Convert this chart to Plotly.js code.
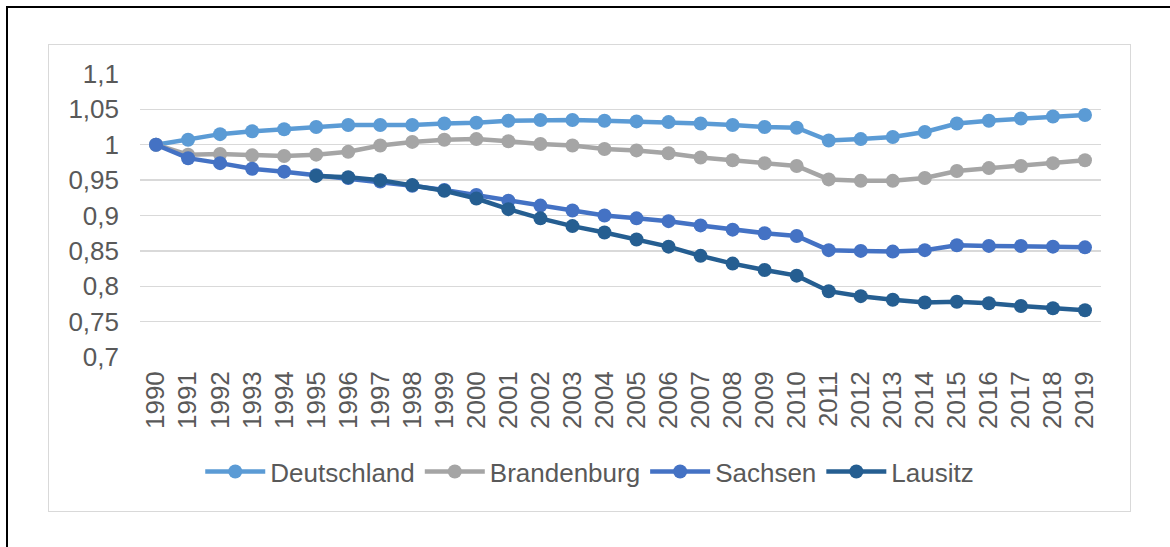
<!DOCTYPE html>
<html>
<head>
<meta charset="utf-8">
<script src="https://cdn.plot.ly/plotly-3.0.1.min.js"></script>
<style>
  html, body { margin: 0; padding: 0; background: #ffffff; }
  #wrap { position: relative; width: 1170px; height: 547px; overflow: hidden; }
  #chart { position: absolute; left: 0; top: 0; width: 1170px; height: 547px; }
  #outer { position: absolute; left: 6px; top: 6px; width: 1200px; height: 600px;
           border-left: 2px solid #000; border-top: 2px solid #000; pointer-events: none; }
  #inner { position: absolute; left: 48px; top: 44px; width: 1081px; height: 466px;
           border: 1.5px solid #d9d9d9; pointer-events: none; }
</style>
</head>
<body>
<div id="wrap">
  <div id="chart"></div>
  <div id="outer"></div>
  <div id="inner"></div>
</div>
<script>
const years = ['1990','1991','1992','1993','1994','1995','1996','1997','1998','1999',
               '2000','2001','2002','2003','2004','2005','2006','2007','2008','2009',
               '2010','2011','2012','2013','2014','2015','2016','2017','2018','2019'];

const deutschland = [1.000,1.007,1.015,1.019,1.022,1.025,1.028,1.028,1.028,1.030,
                     1.031,1.034,1.035,1.035,1.034,1.033,1.032,1.030,1.028,1.025,
                     1.024,1.006,1.008,1.011,1.018,1.030,1.034,1.037,1.040,1.042];

const brandenburg = [1.000,0.986,0.987,0.985,0.984,0.986,0.990,0.999,1.004,1.007,
                     1.008,1.005,1.001,0.999,0.994,0.992,0.988,0.982,0.978,0.974,
                     0.970,0.951,0.949,0.949,0.953,0.963,0.967,0.970,0.974,0.978];

const sachsen = [1.000,0.981,0.974,0.966,0.962,0.957,0.953,0.948,0.942,0.936,
                 0.929,0.921,0.914,0.907,0.900,0.896,0.892,0.886,0.880,0.875,
                 0.871,0.851,0.850,0.849,0.851,0.858,0.857,0.857,0.856,0.855];

const lausitz = [null,null,null,null,null,0.956,0.954,0.950,0.943,0.935,
                 0.924,0.909,0.896,0.885,0.876,0.866,0.856,0.843,0.832,0.823,
                 0.815,0.793,0.786,0.781,0.777,0.778,0.776,0.772,0.769,0.766];

const yTickVals = [0.7,0.75,0.8,0.85,0.9,0.95,1,1.05,1.1];
const yTickText = ['0,7','0,75','0,8','0,85','0,9','0,95','1','1,05','1,1'];

const seriesNames = ['Deutschland','Brandenburg','Sachsen','Lausitz'];
const seriesData = [deutschland, brandenburg, sachsen, lausitz];
const seriesColors = ['#5B9BD5','#A5A5A5','#4472C4','#255E91'];

const traces = seriesNames.map((name, i) => ({
  type: 'scatter',
  mode: 'lines+markers',
  name: name,
  x: years,
  y: seriesData[i],
  line: { color: seriesColors[i], width: 4.5 },
  marker: { color: seriesColors[i], size: 14 },
  connectgaps: false
}));

const layout = {
  width: 1170,
  height: 547,
  margin: { l: 140, r: 69, t: 74, b: 190 },
  paper_bgcolor: '#ffffff',
  plot_bgcolor: '#ffffff',
  font: { family: 'Liberation Sans, Arial, sans-serif', size: 26, color: '#595959' },
  showlegend: true,
  legend: {
    orientation: 'h',
    x: 0.468, xanchor: 'center',
    y: -0.405, yanchor: 'middle',
    itemwidth: 60,
    font: { size: 26, color: '#595959' },
    bgcolor: 'rgba(0,0,0,0)'
  },
  xaxis: {
    type: 'category',
    range: [-0.5, 29.5],
    tickangle: -90,
    showgrid: false,
    zeroline: false,
    showline: false,
    ticks: '',
    ticklabelstandoff: 8,
    tickfont: { size: 26, color: '#595959' },
    fixedrange: true
  },
  yaxis: {
    range: [0.7, 1.1],
    tickvals: yTickVals,
    ticktext: yTickText,
    showgrid: true,
    gridcolor: '#d9d9d9',
    gridwidth: 1.3,
    zeroline: false,
    showline: false,
    ticks: '',
    ticklabelstandoff: 20,
    tickfont: { size: 26, color: '#595959' },
    fixedrange: true
  }
};

Plotly.newPlot('chart', traces, layout, { displayModeBar: false, staticPlot: true });
</script>
</body>
</html>
